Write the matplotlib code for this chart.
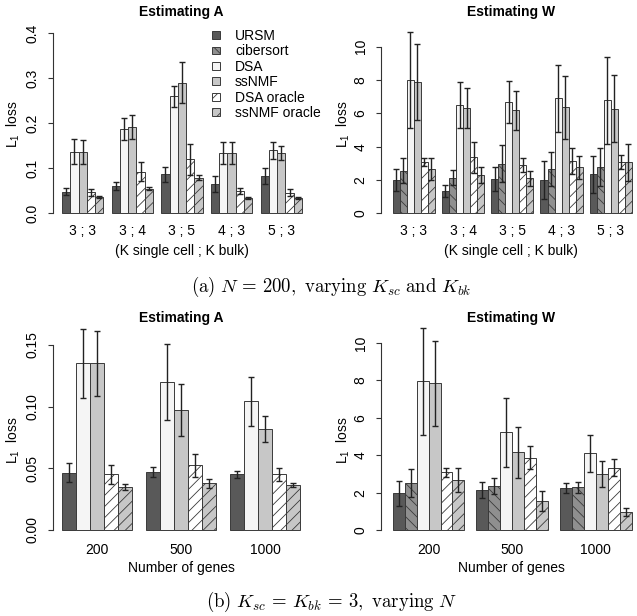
import matplotlib
matplotlib.use("Agg")
import matplotlib.pyplot as plt
from matplotlib.patches import Patch
import numpy as np

plt.rcParams['font.family'] = ['Liberation Sans', 'DejaVu Sans']
plt.rcParams['mathtext.fontset'] = 'custom'
plt.rcParams['mathtext.rm'] = 'Liberation Sans'
plt.rcParams['mathtext.it'] = 'Liberation Sans:italic'
plt.rcParams['hatch.linewidth'] = 0.6

# ---------------- data ----------------
methods_W = ["URSM", "cibersort", "DSA", "ssNMF", "DSA oracle", "ssNMF oracle"]
methods_A = ["URSM", "DSA", "ssNMF", "DSA oracle", "ssNMF oracle"]

k_labels = ["3 ; 3", "3 ; 4", "3 ; 5", "4 ; 3", "5 ; 3"]
gene_labels = ["200", "500", "1000"]

# (a) Estimating A, rows = K groups, cols = methods_A
a_A_mean = [[0.047, 0.136, 0.136, 0.046, 0.0355],
            [0.060, 0.187, 0.191, 0.092, 0.054],
            [0.086, 0.259, 0.290, 0.119, 0.0785],
            [0.064, 0.133, 0.133, 0.048, 0.0333],
            [0.082, 0.139, 0.133, 0.045, 0.0333]]
a_A_err = [[0.008, 0.028, 0.026, 0.0075, 0.0025],
           [0.0095, 0.025, 0.026, 0.0215, 0.003],
           [0.0165, 0.023, 0.046, 0.034, 0.0052],
           [0.0175, 0.0245, 0.024, 0.0068, 0.0015],
           [0.017, 0.019, 0.0155, 0.0075, 0.0015]]

# (a) Estimating W, cols = methods_W
a_W_mean = [[2.00, 2.56, 7.98, 7.86, 3.10, 2.68],
            [1.34, 2.14, 6.48, 6.32, 3.36, 2.28],
            [2.08, 2.98, 6.68, 6.18, 2.88, 2.10],
            [2.00, 2.64, 6.90, 6.36, 3.12, 2.76],
            [2.34, 2.76, 6.78, 6.28, 3.06, 3.06]]
a_W_err = [[0.66, 0.74, 2.88, 2.28, 0.24, 0.66],
           [0.34, 0.44, 1.38, 1.18, 0.94, 0.48],
           [0.72, 1.12, 1.24, 1.16, 0.42, 0.46],
           [1.14, 1.02, 2.00, 1.88, 0.78, 0.70],
           [1.13, 1.14, 2.60, 2.00, 0.42, 1.10]]

# (b) Estimating A, rows = number of genes
b_A_mean = [[0.0465, 0.135, 0.135, 0.045, 0.0346],
            [0.0468, 0.120, 0.097, 0.0524, 0.0378],
            [0.0451, 0.1043, 0.0819, 0.0451, 0.0365]]
b_A_err = [[0.008, 0.028, 0.026, 0.008, 0.0023],
           [0.004, 0.031, 0.021, 0.0096, 0.0037],
           [0.003, 0.0199, 0.0107, 0.005, 0.0017]]

# (b) Estimating W
b_W_mean = [[1.98, 2.51, 7.95, 7.84, 3.08, 2.66],
            [2.14, 2.35, 5.22, 4.15, 3.87, 1.55],
            [2.25, 2.28, 4.10, 3.01, 3.32, 0.96]]
b_W_err = [[0.67, 0.73, 2.84, 2.29, 0.23, 0.65],
           [0.44, 0.43, 1.85, 1.38, 0.63, 0.53],
           [0.27, 0.285, 1.00, 0.70, 0.455, 0.22]]

# ---------------- styles ----------------
style = {
    "URSM":         dict(color="#595959", hatch=None),
    "cibersort":    dict(color="#8f8f8f", hatch="\\\\\\"),
    "DSA":          dict(color="#f5f5f5", hatch=None),
    "ssNMF":        dict(color="#c7c7c7", hatch=None),
    "DSA oracle":   dict(color="#ffffff", hatch="///"),
    "ssNMF oracle": dict(color="#c7c7c7", hatch="///"),
}
EDGE = "#3a3a3a"

W, H = 637, 616
fig = plt.figure(figsize=(W / 100, H / 100), dpi=100)


def add_ax(l, t, r, b):
    return fig.add_axes([l / W, 1 - b / H, (r - l) / W, (b - t) / H])


def draw(ax, means, errs, names, glabels, xlim, ylim, yticks, yticklabels, xpad):
    n = len(names)
    means = np.array(means)
    errs = np.array(errs)
    ng = means.shape[0]
    bases = 1 + (n + 1) * np.arange(ng)
    for i, name in enumerate(names):
        x = bases + i
        st = style[name]
        ax.bar(x, means[:, i], width=1, align='edge', color=st["color"],
               hatch=st["hatch"], edgecolor=EDGE, linewidth=0.7, zorder=2)
        ax.errorbar(x + 0.5, means[:, i], yerr=errs[:, i], fmt='none',
                    ecolor="#222222", elinewidth=1.0, capsize=2.2,
                    capthick=1.0, zorder=3)
    ax.set_xlim(*xlim)
    ax.set_ylim(*ylim)
    ax.set_xticks(bases + n / 2)
    ax.set_xticklabels(glabels, fontsize=10)
    ax.set_yticks(yticks)
    ax.set_yticklabels(yticklabels, fontsize=10, rotation=90, va='center')
    for s in ["top", "right", "bottom"]:
        ax.spines[s].set_visible(False)
    ax.spines["left"].set_bounds(yticks[0], yticks[-1])
    ax.spines["left"].set_color("#333333")
    ax.spines["left"].set_linewidth(0.8)
    ax.tick_params(axis='x', length=0, pad=xpad)
    ax.tick_params(axis='y', length=3.6, width=0.8, color="#333333", pad=6)
    ax.patch.set_visible(False)


def ftext(x, y, s, **kw):
    fig.text(x / W, 1 - y / H, s, ha='center', va='center', **kw)


# Top-left: (a) Estimating A
ax1 = add_ax(53, 25.8, 306.1, 220.2)
draw(ax1, a_A_mean, a_A_err, methods_A, k_labels, (-0.09, 30.5), (-0.016, 0.416),
     [0.0, 0.1, 0.2, 0.3, 0.4], ["0.0", "0.1", "0.2", "0.3", "0.4"], 3.0)

# Top-right: (a) Estimating W
ax2 = add_ax(381, 26.7, 634.8, 220)
draw(ax2, a_W_mean, a_W_err, methods_W, k_labels, (-0.66, 35.4), (-0.4, 11.2),
     [0, 2, 4, 6, 8, 10], ["0", "2", "4", "6", "8", "10"], 3.0)

# Bottom-left: (b) Estimating A
ax3 = add_ax(53, 320.3, 304.2, 537)
draw(ax3, b_A_mean, b_A_err, methods_A, gene_labels, (0.357, 18.3), (-0.0057, 0.17),
     [0.0, 0.05, 0.10, 0.15], ["0.00", "0.05", "0.10", "0.15"], 4.0)

# Bottom-right: (b) Estimating W
ax4 = add_ax(381, 320.6, 634.7, 537)
draw(ax4, b_W_mean, b_W_err, methods_W, gene_labels, (0.02, 21.25), (-0.37, 11.2),
     [0, 2, 4, 6, 8, 10], ["0", "2", "4", "6", "8", "10"], 4.0)

# Titles
ftext(181.7, 12, "Estimating A", fontsize=10, fontweight='bold')
ftext(511, 12, "Estimating W", fontsize=10, fontweight='bold')
ftext(181.7, 318, "Estimating A", fontsize=10, fontweight='bold')
ftext(511.5, 318, "Estimating W", fontsize=10, fontweight='bold')

# Axis labels
ylab = r"L$_\mathregular{1}$  loss"
for (x, y) in [(13, 124), (343, 124), (13, 440), (343, 440)]:
    ftext(x, y, ylab, fontsize=10, rotation=90)
ftext(181.7, 251, "(K single cell ; K bulk)", fontsize=10)
ftext(511, 251, "(K single cell ; K bulk)", fontsize=10)
ftext(181.7, 568, "Number of genes", fontsize=10)
ftext(511.5, 568, "Number of genes", fontsize=10)

# Legend
handles = [Patch(facecolor=style[m]["color"], hatch=style[m]["hatch"],
                 edgecolor=EDGE, linewidth=0.7, label=m) for m in methods_W]
leg = ax1.legend(handles=handles, loc='upper left',
                 bbox_to_anchor=(212 / W, 1 - 29 / H),
                 bbox_transform=fig.transFigure, frameon=False, fontsize=10,
                 handlelength=0.55, handleheight=0.5, handletextpad=1.1,
                 labelspacing=0.1, borderpad=0, borderaxespad=0)

# Captions
ftext(331, 287, r"$\mathrm{(a)}\ N\, =\, 200,\ \mathrm{varying}\ K_{sc}\ \mathrm{and}\ K_{bk}$",
      fontsize=13.5, math_fontfamily='cm')
ftext(332, 602, r"$\mathrm{(b)}\ K_{sc}\, =\, K_{bk}\, =\, 3,\ \mathrm{varying}\ N$",
      fontsize=13.5, math_fontfamily='cm')

fig.savefig("out.png", dpi=100)
